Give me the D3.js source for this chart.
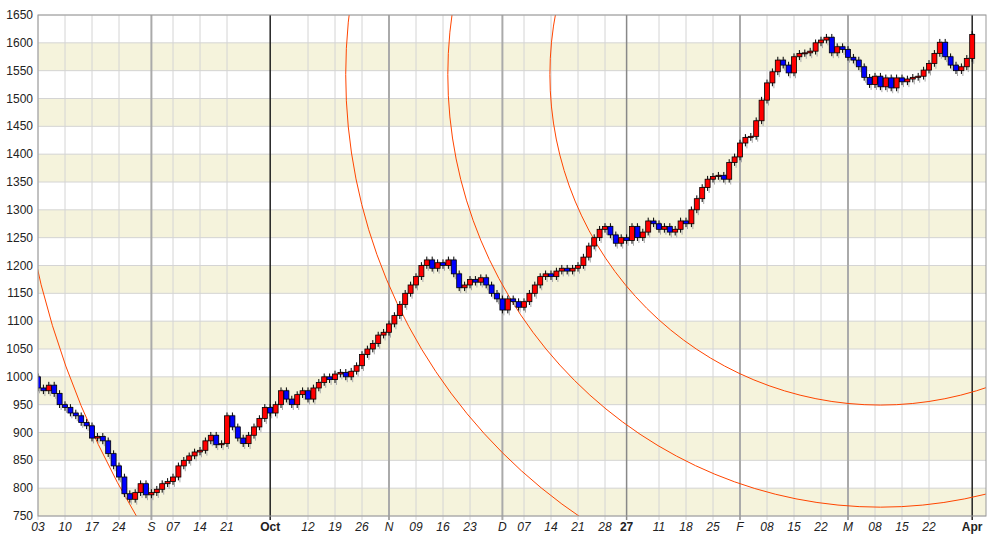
<!DOCTYPE html><html><head><meta charset="utf-8">
<script src="https://cdn.jsdelivr.net/npm/d3@7"></script>
<style>body{margin:0;background:#fff}svg{font-family:"Liberation Sans",Arial,sans-serif}</style></head><body>
<svg id="c" width="1000" height="542"></svg>
<script>
const startDate = "2026-08-03";
const closes = [
980,975,985,970,950, 945,935,930,918,912, 890,893,885,862,840, 820,790,780,792,808, 788,
792,798,808,812, 820,840,850,858,865, 868,885,895,878,880, 930,910,890,880,895, 910,925,945,
935,950, 975,960,950,968,975, 960,980,990,1000,995, 1005,1008,1000,1010,1020, 1040,1050,1060,1075,1080,
1095,1110,1130,1150,1165, 1180,1200,1210,1195,1205, 1200,1210,1185,1160,1165, 1175,1170,1178,1165,1150, 1140,
1120,1140,1135,1125, 1135,1150,1165,1180,1185, 1180,1190,1195,1190,1195, 1200,1215,1235,1250,1265, 1270,1255,1240,1250,
1245, 1270,1250,1260,1280,1275, 1265,1270,1260,1265,1280, 1275,1300,1320,1340,1355, 1360,1362,1355,1385,1395,
1420,1430,1432,1460,1497, 1528,1548,1569,1560,1546, 1575,1581,1582,1585,1600, 1605,1610,1582,1593,1588,
1574,1569,1557,1538,1525, 1540,1521,1537,1519,1537, 1530,1535,1538,1540,1551, 1563,1581,1601,1575,1560, 1550,1557,1572,
1615];
const yTicks = [750,800,850,900,950,1000,1050,1100,1150,1200,1250,1300,1350,1400,1450,1500,1550,1600,1650];
const arcCenter = {i:156, v:1543};
const arcAnchor = {i:17, v:770};
const arcRatios = [0.382,0.5,0.618,1];

const dates=[]; let d=new Date(startDate+"T12:00:00");
while(dates.length<closes.length){ if(d.getDay()>0&&d.getDay()<6) dates.push(new Date(d)); d=new Date(d.getTime()+864e5);}
const opens = closes.map((c,i)=> i===0?1000:closes[i-1]);

const svg=d3.select("#c");
const L=38,R=986,T=15,B=516;
const x=d3.scaleLinear().domain([0,175.5]).range([L,L+175.5*5.4]);
const y=d3.scaleLinear().domain([750,1650]).range([B,T]);
for(let v=750; v<1650; v+=100) svg.append("rect").attr("x",L).attr("width",R-L).attr("y",y(v+50)).attr("height",y(v)-y(v+50)).attr("fill","#f5f3dc");
svg.append("g").selectAll("line").data(yTicks).join("line").attr("x1",L).attr("x2",R).attr("y1",d=>y(d)).attr("y2",d=>y(d)).attr("stroke","#d4d4d4");
const monthTicks=[], weekTicks=[];
dates.forEach((dt,i)=>{
  const prev=i>0?dates[i-1]:null;
  const newMonth = !prev || prev.getMonth()!==dt.getMonth();
  if(newMonth && dt.getMonth()===0) monthTicks.push({i,label:String(dt.getFullYear()).slice(2),kind:"year"});
  else if(newMonth && (dt.getMonth()===9||dt.getMonth()===3)) monthTicks.push({i,label:d3.timeFormat("%b")(dt),kind:"bold"});
  else if(newMonth && i>0) monthTicks.push({i,label:d3.timeFormat("%b")(dt)[0],kind:"month"});
  else if(dt.getDay()===1) weekTicks.push({i,label:d3.timeFormat("%d")(dt),kind:"week"});
});
const ticks = weekTicks.filter(w=>!monthTicks.some(m=>Math.abs(m.i-w.i)<=3)).concat(monthTicks);
const g=svg.append("g");
ticks.forEach(t=>{
  const col = t.kind==="bold"? "#222": t.kind==="year"?"#888": t.kind==="month"?"#aaa":"#d4d4d4";
  const w = t.kind==="week"?1:t.kind==="month"?2:1.5;
  g.append("line").attr("x1",x(t.i)).attr("x2",x(t.i)).attr("y1",T).attr("y2",B+4).attr("stroke",col).attr("stroke-width",w);
  const b=(t.kind==="bold"||t.kind==="year");
  g.append("text").attr("x",x(t.i)).attr("y",531).attr("text-anchor","middle").attr("font-size",12)
   .attr("font-style",b?"normal":"italic").attr("font-weight",b?"bold":"normal").attr("fill","#222").text(t.label);
});
const cx=x(arcCenter.i), cy=y(arcCenter.v), r0=Math.hypot(x(arcAnchor.i)-cx, y(arcAnchor.v)-cy);
svg.append("clipPath").attr("id","cp").append("rect").attr("x",L).attr("y",T).attr("width",R-L).attr("height",B-T);
svg.append("g").attr("clip-path","url(#cp)").selectAll("circle").data(arcRatios).join("circle")
 .attr("cx",cx).attr("cy",cy).attr("r",r=>r*r0).attr("fill","none").attr("stroke","#ff4500").attr("stroke-width",1);
const cg=svg.append("g").attr("clip-path","url(#cp)");
closes.forEach((c,i)=>{
  const o=opens[i], hi=Math.max(o,c)+6, lo=Math.min(o,c)-6, xc=x(i);
  cg.append("line").attr("x1",xc+1.5).attr("x2",xc+1.5).attr("y1",y(hi)+2).attr("y2",y(lo)+2).attr("stroke","#aaa");
  cg.append("line").attr("x1",xc).attr("x2",xc).attr("y1",y(hi)).attr("y2",y(lo)).attr("stroke","#000");
  const top=y(Math.max(o,c)), h=Math.max(1,y(Math.min(o,c))-top);
  cg.append("rect").attr("x",xc-2.5).attr("y",top).attr("width",5).attr("height",h)
    .attr("fill",c>=o?"#ff0000":"#0000ff").attr("stroke","#000").attr("stroke-width",0.8);
});
svg.append("rect").attr("x",L).attr("y",T).attr("width",R-L).attr("height",B-T).attr("fill","none").attr("stroke","#999");
svg.append("g").selectAll("text").data(yTicks).join("text").attr("x",33).attr("y",d=>y(d)+4).attr("text-anchor","end").attr("font-size",12).attr("fill","#222").text(d=>d);
</script></body></html>
